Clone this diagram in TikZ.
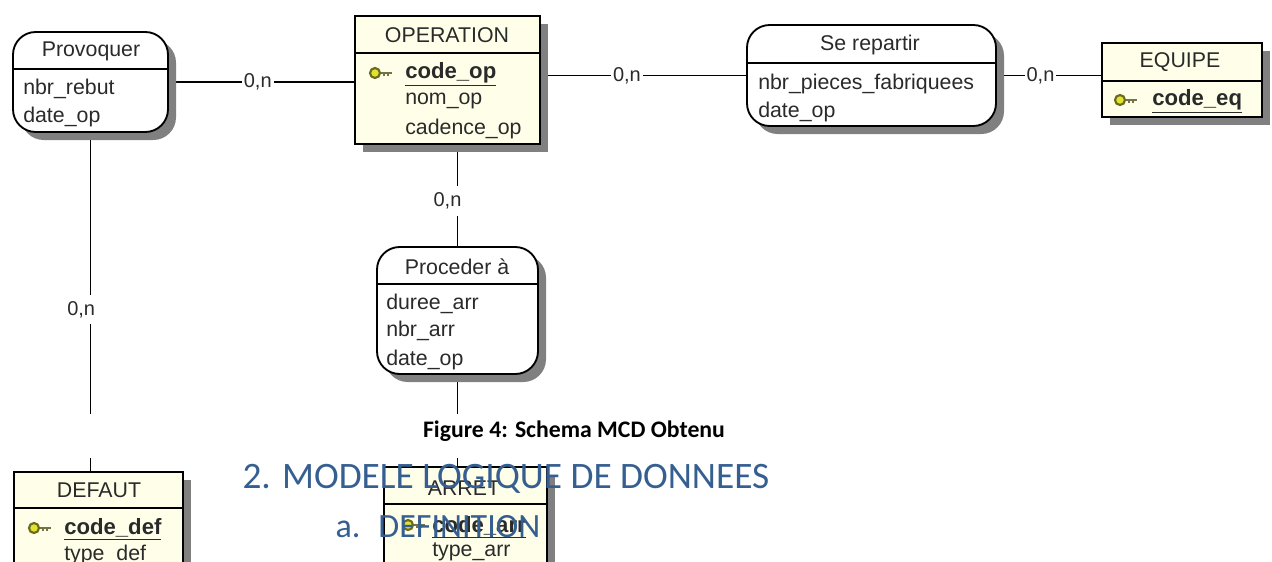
\documentclass[tikz,border=0pt]{standalone}
\usepackage{fontspec}
\setmainfont{Liberation Sans}
\newfontfamily\carl{Carlito}
\usetikzlibrary{shadows,backgrounds}
\definecolor{entfill}{HTML}{FFFFE9}
\definecolor{shadowgray}{HTML}{808080}
\definecolor{inkc}{HTML}{2A2A2A}
\definecolor{headblue}{HTML}{365F91}
\definecolor{keyyellow}{HTML}{E2E230}
\definecolor{keyrim}{HTML}{6A6A20}
\tikzset{
  boxbase/.style={draw=black,line width=1.4pt,anchor=north west,inner sep=0pt,outer sep=0pt,
    general shadow={shadow xshift=6pt,shadow yshift=-6pt,fill=shadowgray}},
  assoc/.style={boxbase,fill=white,rounded corners=17pt},
  entity/.style={boxbase,fill=entfill},
  divider/.style={draw=black,line width=1.2pt},
  link/.style={draw=black,line width=1.2pt},
  card/.style={fill=white,inner xsep=1.5pt,inner ysep=5pt,font=\fontsize{15}{17}\selectfont,text=inkc},
  head/.style={font=\fontsize{16}{18}\selectfont,text=inkc,inner sep=0pt},
  attr/.style={font=\fontsize{16}{18}\selectfont,text=inkc,inner sep=0pt,anchor=west,yshift=-1.7pt},
  pkey/.style={font=\fontsize{16.6}{18}\selectfont\bfseries,text=inkc,inner sep=0pt,anchor=west,yshift=-1.7pt},
  keyshaft/.style={draw=keyrim!60!gray,line width=2pt},
  keyring/.style={draw=keyrim,fill=keyyellow,line width=1.6pt},
}
\newcommand{\keyicon}[3]{%
  \draw[keyshaft] (#2+4,#3) -- (#2+17,#3);
  \draw[keyshaft,line width=1pt] (#2+9,#3) -- (#2+9,#3+3) (#2+13,#3) -- (#2+13,#3+3);
  \node[keyring,circle,minimum size=7.5pt,inner sep=0pt] (#1) at (#2,#3) {};
}
\begin{document}
\begin{tikzpicture}[x=0.75pt,y=-0.75pt]
\useasboundingbox (0,0) rectangle (1272,561);
\clip (0,0) rectangle (1272,561);
% boxes
\node[assoc,minimum width=155*0.75pt,minimum height=100*0.75pt] (prov) at (13,32) {};
\node[entity,minimum width=185*0.75pt,minimum height=128*0.75pt] (op) at (355,16) {};
\node[assoc,minimum width=249*0.75pt,minimum height=101*0.75pt] (se) at (747,25) {};
\node[entity,minimum width=160*0.75pt,minimum height=74*0.75pt] (eq) at (1102,43) {};
\node[assoc,minimum width=161*0.75pt,minimum height=127*0.75pt] (proc) at (377,247) {};
\node[entity,minimum width=169*0.75pt,minimum height=140*0.75pt] (def) at (14,472) {};
\node[entity,minimum width=163*0.75pt,minimum height=140*0.75pt] (arr) at (384,467) {};
% dividers
\draw[divider] (prov.west |- 0,69) -- (prov.east |- 0,69);
\draw[divider] (op.west |- 0,53) -- (op.east |- 0,53);
\draw[divider] (se.west |- 0,63) -- (se.east |- 0,63);
\draw[divider] (eq.west |- 0,81) -- (eq.east |- 0,81);
\draw[divider] (proc.west |- 0,284) -- (proc.east |- 0,284);
\draw[divider] (def.west |- 0,508) -- (def.east |- 0,508);
\draw[divider] (arr.west |- 0,504) -- (arr.east |- 0,504);
% connectors
\begin{scope}[on background layer]
\draw[link] (prov.east) -- (prov.east -| op.west) node[card,pos=.48] (c1) {0,n};
\draw[link] (se.west -| op.east) -- (se.west) node[card,pos=.42] (c2) {0,n};
\draw[link] (se.east) -- (se.east -| eq.west) node[card,pos=.42] (c3) {0,n};
\draw[link] (op.south -| proc.north) -- (proc.north) node[card,pos=.555,xshift=-7.5pt] (c4) {0,n};
\draw[link] (proc.south) -- (proc.south |- arr.north);
\draw[link] (prov.south) -- (prov.south |- def.north) node[card,pos=.522,xshift=-7pt] (c5) {0,n};
\end{scope}
% headers
\node[head] (provh) at (91,51) {Provoquer};
\node[head] (oph) at (447,35) {OPERATION};
\node[head] (seh) at (870,45) {Se repartir};
\node[head] (eqh) at (1180,62) {EQUIPE};
\node[head] (proch) at (457,267) {Proceder à};
\node[head] (defh) at (99,490) {DEFAUT};
\node[head] (arrh) at (464,488) {ARRET};
% attributes
\node[attr] (a1) at (23,87) {nbr\_rebut};
\node[attr] (a2) at (23,115) {date\_op};
\node[pkey] (a3) at (405,72) {\underline{code\_op}};
\node[attr] (a4) at (405,99) {nom\_op};
\node[attr] (a5) at (405,127) {cadence\_op};
\node[attr] (a6) at (758,82) {nbr\_pieces\_fabriquees};
\node[attr] (a7) at (758,110) {date\_op};
\node[pkey] (a8) at (1152,99) {\underline{code\_eq}};
\node[attr] (a9) at (386,302) {duree\_arr};
\node[attr] (a10) at (386,329) {nbr\_arr};
\node[attr] (a11) at (386,358) {date\_op};
\node[pkey] (a12) at (64,527) {\underline{code\_def}};
\node[attr] (a13) at (64,553) {type\_def};
\node[pkey] (a14) at (432,525) {\underline{code\_arr}};
\node[attr] (a15) at (432,550) {type\_arr};
% keys
\keyicon{k1}{375}{73}
\keyicon{k2}{1120}{100}
\keyicon{k3}{34}{528}
\keyicon{k4}{408}{525}
% page break band
\fill[white] (0,414) rectangle (1272,458);
% document text
\node[inner sep=0pt,text=black,font=\carl\bfseries\fontsize{17.8}{20}\selectfont] (cap) at (574,431) {Figure 4: Schema MCD Obtenu};
\node[inner sep=0pt,text=headblue,font=\carl\fontsize{28}{32}\selectfont] (t1) at (506,479) {2. MODELE LOGIQUE DE DONNEES};
\node[inner sep=0pt,text=headblue,font=\carl\fontsize{25.5}{30}\selectfont] (t2) at (438,527) {a.\hspace{.53em}DEFINITION};
\end{tikzpicture}
\end{document}
